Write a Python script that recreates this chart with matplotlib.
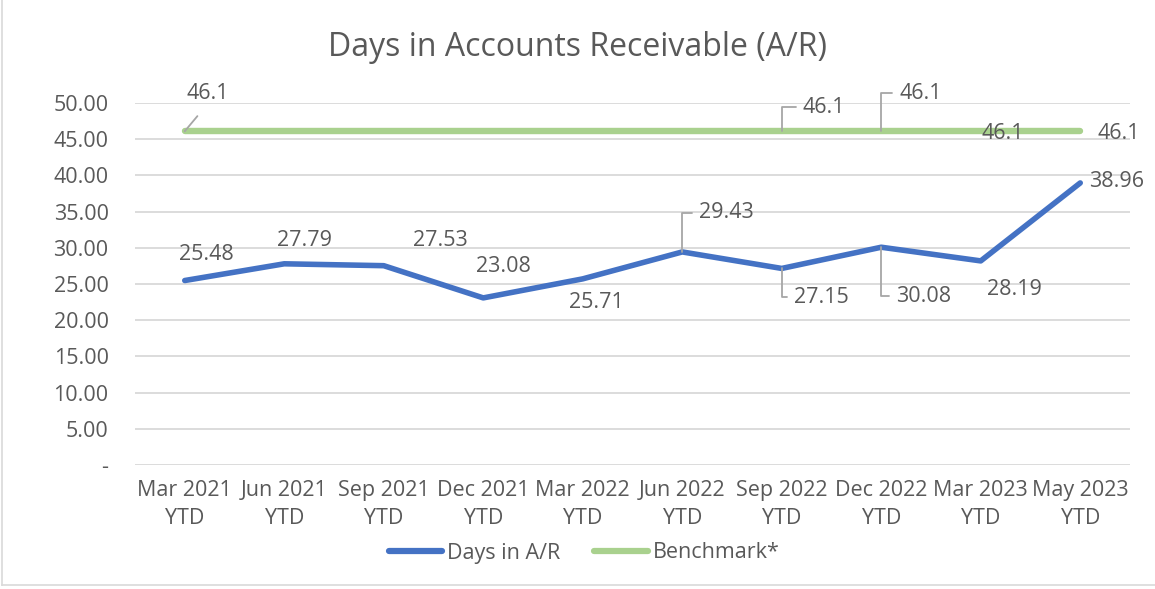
import matplotlib
matplotlib.use("Agg")
import matplotlib.pyplot as plt
from matplotlib.lines import Line2D

categories = ["Mar 2021\nYTD", "Jun 2021\nYTD", "Sep 2021\nYTD", "Dec 2021\nYTD", "Mar 2022\nYTD",
              "Jun 2022\nYTD", "Sep 2022\nYTD", "Dec 2022\nYTD", "Mar 2023\nYTD", "May 2023\nYTD"]
days_ar = [25.48, 27.79, 27.53, 23.08, 25.71, 29.43, 27.15, 30.08, 28.19, 38.96]
benchmark = [46.1, 46.1, 46.1, 46.1, 46.1, 46.1, 46.1, 46.1, 46.1, 46.1]
yticks = [0, 5, 10, 15, 20, 25, 30, 35, 40, 45, 50]
ytick_labels = ["-", "5.00", "10.00", "15.00", "20.00", "25.00", "30.00", "35.00", "40.00", "45.00", "50.00"]

plt.rcParams['font.family'] = ['Open Sans', 'DejaVu Sans']
TXT = "#595959"
BLUE = "#4472C4"
GREEN = "#A9D18E"
FS = 15.5

fig = plt.figure(figsize=(11.55, 5.89), dpi=100)
ax = fig.add_axes([135/1155, 1-465/589, (1130-135)/1155, (465-103)/589])

x = list(range(len(categories)))
ax.plot(x, benchmark, color=GREEN, lw=4.6, solid_capstyle='round', zorder=3)
ax.plot(x, days_ar, color=BLUE, lw=4.0, solid_capstyle='round', zorder=4)

ax.set_xlim(-0.5, len(categories)-0.5)
ax.set_ylim(0, 50)
ax.set_yticks(yticks)
ax.set_yticklabels(ytick_labels)
ax.set_xticks(x)
ax.set_xticklabels(categories, linespacing=1.45)
ax.tick_params(axis='both', length=0, labelsize=FS, labelcolor=TXT)
ax.tick_params(axis='y', pad=19)
ax.tick_params(axis='x', pad=11)
ax.grid(axis='y', color="#D9D9D9", lw=1.3)
ax.set_axisbelow(True)
for s in ax.spines.values():
    s.set_visible(False)

fig.text(578/1155, 1-47/589, "Days in Accounts Receivable (A/R)", ha='center', va='center',
         fontsize=23, color=TXT)

# data labels: (offset x px, offset y px, leader type)
days_offsets = [(22, 26, None), (20, 23, None), (57, 25, None), (20, 31, None), (14, -24, None),
                (44, 39, 'up'), (40, -29, 'down'), (42, -49, 'down'), (34, -29, None), (36, 1, None)]
for i, (dx, dy, lead) in enumerate(days_offsets):
    kw = {}
    if lead:
        kw['arrowprops'] = dict(arrowstyle='-', color='#A6A6A6', lw=1.3,
                                connectionstyle='angle,angleA=0,angleB=90,rad=0',
                                relpos=(0, 0.5), shrinkA=3, shrinkB=0)
    ax.annotate(f"{days_ar[i]:.2f}", (i, days_ar[i]), xytext=(dx, dy), textcoords='offset pixels',
                ha='center', va='center', fontsize=FS, color=TXT, zorder=6, **kw)

bench_offsets = {0: (23, 38, 'diag'), 6: (42, 24, 'up'), 7: (39, 38, 'up'), 8: (22, -2, None), 9: (38, -2, None)}
for i, (dx, dy, lead) in bench_offsets.items():
    kw = {}
    if lead == 'up':
        kw['arrowprops'] = dict(arrowstyle='-', color='#A6A6A6', lw=1.3,
                                connectionstyle='angle,angleA=0,angleB=90,rad=0',
                                relpos=(0, 0.5), shrinkA=3, shrinkB=0)
    elif lead == 'diag':
        kw['arrowprops'] = dict(arrowstyle='-', color='#A6A6A6', lw=1.3,
                                relpos=(0.5, 0), shrinkA=9, shrinkB=0)
    ax.annotate(f"{benchmark[i]:.1f}", (i, benchmark[i]), xytext=(dx, dy), textcoords='offset pixels',
                ha='center', va='center', fontsize=FS, color=TXT, zorder=6, **kw)

handles = [Line2D([], [], color=BLUE, lw=4.5, solid_capstyle='round'),
           Line2D([], [], color=GREEN, lw=4.5, solid_capstyle='round')]
fig.legend(handles, ["Days in A/R", "Benchmark*"], loc='center', bbox_to_anchor=(584/1155, 1-553/589),
           ncol=2, frameon=False, fontsize=FS, labelcolor=TXT, handlelength=2.5, handletextpad=0.2,
           columnspacing=1.6)

# chart frame
fig.add_artist(Line2D([2/1155, 2/1155], [1-585/589, 1.0], transform=fig.transFigure, color="#D9D9D9", lw=1.2))
fig.add_artist(Line2D([2/1155, 1.0], [1-585/589, 1-585/589], transform=fig.transFigure, color="#D9D9D9", lw=1.2))

fig.savefig("out.png", dpi=100)
